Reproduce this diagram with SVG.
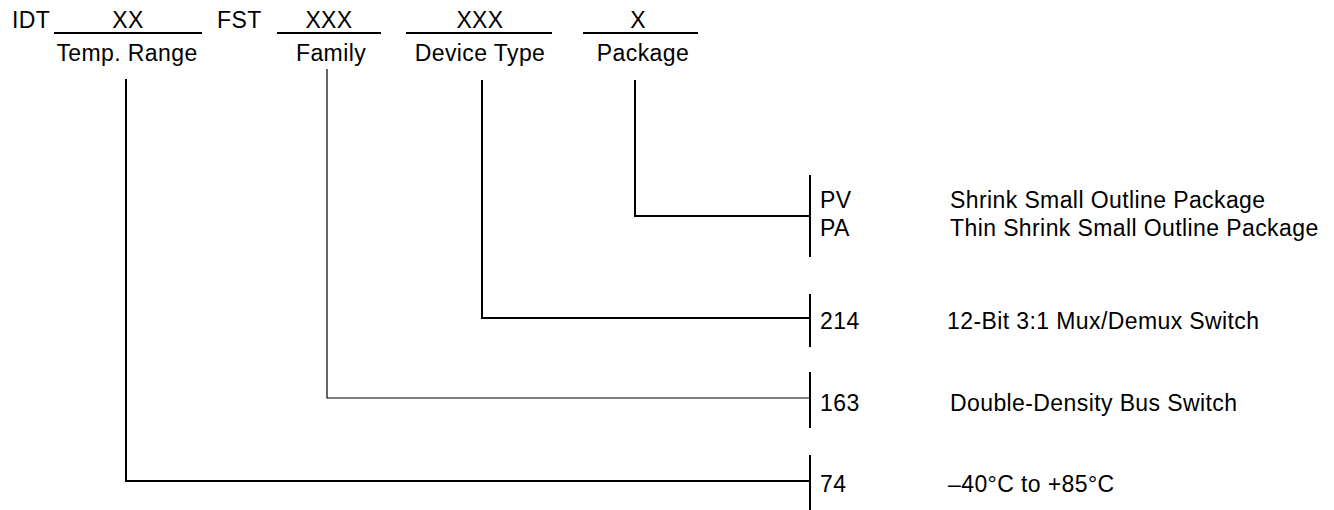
<svg xmlns="http://www.w3.org/2000/svg" width="1334" height="510" viewBox="0 0 1334 510">
<style>
text{font-family:"Liberation Sans",Arial,Helvetica,sans-serif;font-size:23px;fill:#000;letter-spacing:0.4px}
.c{text-anchor:middle}
.ln{stroke:#000;stroke-width:2;fill:none}
.thin{stroke:#000;stroke-width:1.2;fill:none}
</style>
<rect width="1334" height="510" fill="#fff"/>
<g id="header">
<text x="12" y="28">IDT</text>
<text x="217" y="28">FST</text>
</g>
<g id="temp-range">
<text class="c" x="128" y="28">XX</text>
<line class="ln" x1="54" y1="33" x2="202" y2="33"/>
<text class="c" x="127" y="61">Temp. Range</text>
</g>
<g id="family">
<text class="c" x="329" y="28">XXX</text>
<line class="ln" x1="277" y1="33" x2="381" y2="33"/>
<text class="c" x="331" y="61">Family</text>
</g>
<g id="device-type">
<text class="c" x="480" y="28">XXX</text>
<line class="ln" x1="406" y1="33" x2="552" y2="33"/>
<text class="c" x="480" y="61">Device Type</text>
</g>
<g id="package">
<text class="c" x="638" y="28">X</text>
<line class="ln" x1="583" y1="33" x2="698" y2="33"/>
<text class="c" x="643" y="61">Package</text>
</g>
<g id="connectors">
<polyline class="ln" points="126,79 126,481 810,481"/>
<polyline class="thin" points="327,69 327,398 810,398"/>
<polyline class="ln" points="482,80 482,318 810,318"/>
<polyline class="ln" points="635,80 635,216 810,216"/>
</g>
<g id="package-options">
<line class="ln" x1="810" y1="175" x2="810" y2="257"/>
<text x="820" y="208">PV</text>
<text x="950" y="208">Shrink Small Outline Package</text>
<text x="820" y="236">PA</text>
<text x="950" y="236">Thin Shrink Small Outline Package</text>
</g>
<g id="device-options">
<line class="ln" x1="810" y1="294" x2="810" y2="347"/>
<text x="820" y="329">214</text>
<text x="947" y="329">12-Bit 3:1 Mux/Demux Switch</text>
</g>
<g id="family-options">
<line class="ln" x1="810" y1="372" x2="810" y2="428"/>
<text x="820" y="411">163</text>
<text x="950" y="411">Double-Density Bus Switch</text>
</g>
<g id="temp-options">
<line class="ln" x1="810" y1="455" x2="810" y2="510"/>
<text x="820" y="492">74</text>
<text x="948" y="492">–40°C to +85°C</text>
</g>
</svg>
